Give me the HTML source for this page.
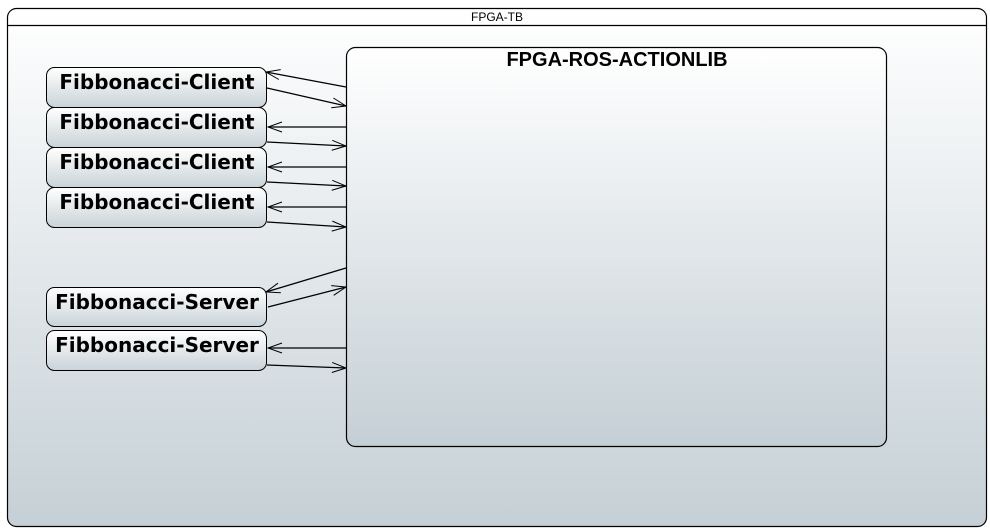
<!DOCTYPE html>
<html><head><meta charset="utf-8"><style>
html,body{margin:0;padding:0;background:#fff;width:990px;height:528px;overflow:hidden}
</style></head><body>
<svg width="990" height="528" viewBox="0 0 990 528" xmlns="http://www.w3.org/2000/svg">
<defs>
<linearGradient id="go" x1="0" y1="0" x2="0" y2="1"><stop offset="0" stop-color="#ffffff"/><stop offset="1" stop-color="#c5d0d6"/></linearGradient>
<linearGradient id="gi" x1="0" y1="0" x2="0" y2="1"><stop offset="0" stop-color="#ffffff"/><stop offset="1" stop-color="#c4cfd5"/></linearGradient>
<linearGradient id="gn" x1="0" y1="0" x2="0" y2="1"><stop offset="0" stop-color="#ffffff"/><stop offset="1" stop-color="#c9d3d8"/></linearGradient>
<marker id="a" markerWidth="16" markerHeight="12" refX="15" refY="6" orient="auto" markerUnits="userSpaceOnUse"><path d="M1,1 L15,6 L1,11" fill="none" stroke="#000" stroke-width="1"/></marker>
</defs>
<rect x="7.5" y="8.5" width="979" height="518" rx="9" fill="url(#go)" stroke="#000" stroke-width="1.2"/>
<line x1="7.5" y1="25.5" x2="986.5" y2="25.5" stroke="#000" stroke-width="1.2"/>
<text x="497" y="21" text-anchor="middle" font-family="Liberation Sans, sans-serif" font-size="12">FPGA-TB</text>
<rect x="346.5" y="47.5" width="540" height="399" rx="9" fill="url(#gi)" stroke="#000" stroke-width="1.2"/>
<text x="617" y="66" text-anchor="middle" font-family="Liberation Sans, sans-serif" font-weight="bold" font-size="20">FPGA-ROS-ACTIONLIB</text>
<g stroke="#000" stroke-width="1">
<rect x="46.5" y="67.5" width="220" height="40" rx="8" fill="url(#gn)"/>
<rect x="46.5" y="107.5" width="220" height="40" rx="8" fill="url(#gn)"/>
<rect x="46.5" y="147.5" width="220" height="40" rx="8" fill="url(#gn)"/>
<rect x="46.5" y="187.5" width="220" height="40" rx="8" fill="url(#gn)"/>
<rect x="46.5" y="287.5" width="220" height="39" rx="8" fill="url(#gn)"/>
<rect x="46.5" y="330.5" width="220" height="40" rx="8" fill="url(#gn)"/>
</g>
<g font-family="DejaVu Sans, sans-serif" font-weight="bold" font-size="20" fill="#000" text-anchor="middle">
<text x="157" y="89">Fibbonacci-Client</text>
<text x="157" y="129">Fibbonacci-Client</text>
<text x="157" y="169">Fibbonacci-Client</text>
<text x="157" y="209">Fibbonacci-Client</text>
<text x="157" y="309">Fibbonacci-Server</text>
<text x="157" y="352">Fibbonacci-Server</text>
</g>
<g stroke="#000" stroke-width="1.2" fill="none" marker-end="url(#a)">
<line x1="346" y1="87" x2="266" y2="72"/>
<line x1="267" y1="88" x2="346" y2="106"/>
<line x1="346" y1="127" x2="268" y2="127"/>
<line x1="267" y1="142" x2="346" y2="146"/>
<line x1="346" y1="167" x2="268" y2="167"/>
<line x1="267" y1="182" x2="346" y2="186"/>
<line x1="346" y1="207" x2="268" y2="207"/>
<line x1="267" y1="222" x2="346" y2="227"/>
<line x1="346" y1="268" x2="266" y2="292"/>
<line x1="268" y1="307" x2="346" y2="287"/>
<line x1="346" y1="348" x2="268" y2="348"/>
<line x1="267" y1="365" x2="346" y2="368"/>
</g>
</svg>
</body></html>
